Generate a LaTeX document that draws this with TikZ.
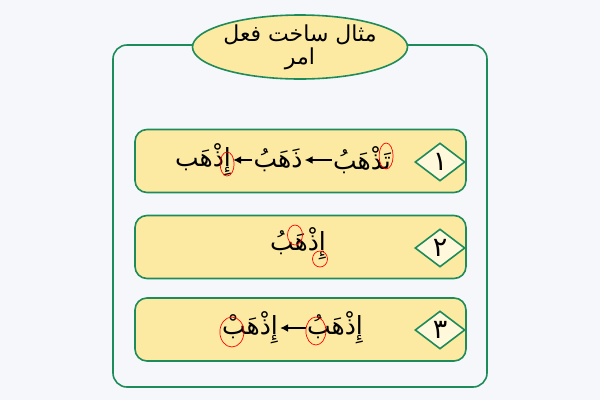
\documentclass[tikz,border=0pt]{standalone}
\usepackage{fontspec}
\usetikzlibrary{positioning,shapes,arrows,arrows.meta}
\TeXXeTstate=1
\newfontfamily\arabicfont[Script=Arabic]{DejaVu Sans}
\definecolor{frame}{HTML}{1E8C5A}
\definecolor{fillyel}{HTML}{FCE9A2}
\definecolor{fillcream}{HTML}{FFF8DA}
\definecolor{bgcol}{HTML}{F5F7FA}
\newcommand{\ar}[1]{{\arabicfont\beginR #1\endR}}

\begin{document}
\begin{tikzpicture}[
x=1pt, y=-1pt,
rowbox/.style={draw=frame, line width=1.6pt, fill=fillyel, rounded corners=12pt, minimum width=331pt, minimum height=63pt},
numbox/.style={diamond, draw=frame, line width=1.6pt, fill=fillcream, minimum width=50pt, minimum height=38pt, inner sep=0pt, font=\fontsize{27}{28}\selectfont},
word/.style={inner sep=1pt, font=\fontsize{25}{28}\selectfont},
hilite/.style={draw=red, line width=0.7pt},
conn/.style={-{Latex[length=8pt,width=8pt]}, line width=2pt, shorten >=1pt}]
\fill[bgcol] (0,0) rectangle (600,400);
\useasboundingbox (0,0) rectangle (600,400);
\draw[frame, line width=1.6pt, rounded corners=14pt] (113,45) rectangle (487,387);
\node[ellipse, draw=frame, line width=1.6pt, fill=fillyel, minimum width=215pt, minimum height=64pt, inner sep=0pt] (title) at (300,47) {};
\node[align=center, font=\fontsize{22}{23}\selectfont] (titletext) at (title.center) {\ar{مثال ساخت فعل}\\\ar{امر}};
% rows
\node[rowbox] (r1) at (300.5,161) {};
\node[rowbox] (r2) at (300.5,247) {};
\node[rowbox] (r3) at (300.5,329.5) {};
\node[numbox] (n1) at (440,162) {\ar{١}};
\node[numbox] (n2) at (440,248) {\ar{٢}};
\node[numbox] (n3) at (440,330) {\ar{٣}};
% row 1
\node[word] (a1) at (362,160) {\ar{تَذْهَبُ}};
\node[word] (a2) at (278,160) {\ar{ذَهَبُ}};
\node[word] (a3) at (203,160) {\ar{إِذْهَب}};
\draw[conn] (a1) -- (a2);
\draw[conn] (a2) -- (a3);
\draw[hilite] ([xshift=-6pt,yshift=4pt]a1.east) ellipse (7pt and 13pt);
\draw[hilite] ([xshift=-5pt,yshift=-4pt]a3.east) ellipse (7pt and 12pt);
% row 2
\node[word] (b1) at (298,244) {\ar{إِذْهَبُ}};
\draw[hilite] (295,235) ellipse (7.5pt and 10pt);
\draw[hilite] (320,259) ellipse (7.5pt and 8pt);
% row 3
\node[word] (c1) at (335,328) {\ar{إِذْهَبُ}};
\node[word] (c2) at (250,328) {\ar{إِذْهَبْ}};
\draw[conn] (c1) -- (c2);
\draw[hilite] ([xshift=10pt,yshift=-3pt]c1.west) ellipse (10pt and 14pt);
\draw[hilite] ([xshift=11pt,yshift=-4pt]c2.west) ellipse (12pt and 15pt);
\end{tikzpicture}
\end{document}
